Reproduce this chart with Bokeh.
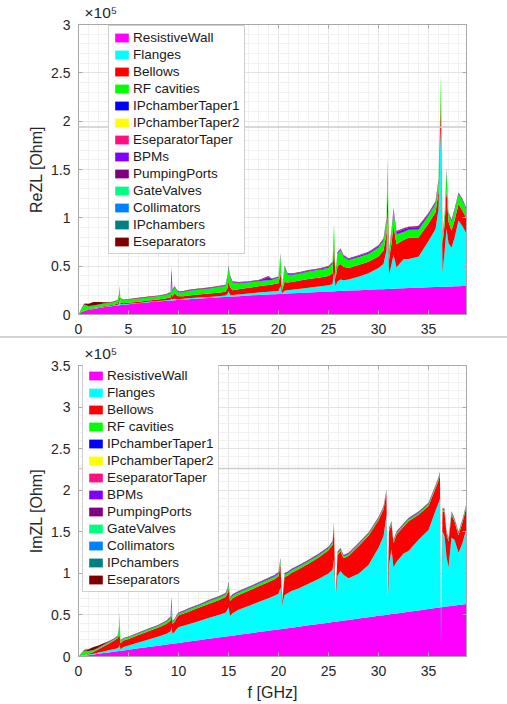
from bokeh.plotting import figure
from bokeh.models import (ColumnDataSource, Range1d, FixedTicker, LinearAxis, Legend,
                          LegendItem, Arrow, Div)
from bokeh.layouts import column
from bokeh.embed import file_html
from bokeh.resources import INLINE

# ---------------- data (impedance in kOhm, frequency in GHz) ----------------
freq = [
    0, 0.3, 0.6, 1.0, 1.5, 2.0, 2.5, 3.0, 3.5, 3.9,
    4.05, 4.1, 4.2, 4.5, 5, 6, 7, 8, 8.8, 9.2,
    9.3, 9.4, 9.6, 9.8, 10.0, 10.5, 11, 12, 13, 14,
    14.7, 14.9, 15.0, 15.15, 15.4, 16, 17, 18, 19, 19.3,
    19.6, 20.0, 20.2, 20.35, 20.6, 20.9, 21.3, 22, 23, 24,
    25, 25.4, 25.55, 25.7, 25.9, 26.2, 26.5, 27, 28, 29,
    30, 30.5, 30.8, 30.9, 31.05, 31.3, 31.5, 31.8, 32.5, 33,
    34, 35, 35.7, 36.0, 36.15, 36.25, 36.4, 36.6, 36.8, 37.0,
    37.3, 37.6, 38, 38.4, 38.8]

names = ["ResistiveWall", "Flanges", "Bellows", "RF cavities", "IPchamberTaper1",
         "IPchamberTaper2", "EseparatorTaper", "BPMs", "PumpingPorts", "GateValves",
         "Collimators", "IPchambers", "Eseparators"]
colors = ["#FF00FF", "#00FFFF", "#FF0000", "#00FF00", "#0000FF",
          "#FFFF00", "#FF0F80", "#8000FF", "#800080", "#00FF80",
          "#0080FF", "#008080", "#800000"]

# ---- real part ----
re_resistive_wall = [
    0, 2.6, 3.7, 4.8, 5.8, 6.7, 7.5, 8.2, 8.9, 9.4,
    9.6, 9.6, 9.7, 10.1, 10.6, 11.6, 12.6, 13.4, 14.1, 14.4,
    14.5, 14.6, 14.7, 14.9, 15.0, 15.4, 15.8, 16.5, 17.1, 17.8,
    18.2, 18.3, 18.4, 18.5, 18.6, 19.0, 19.6, 20.2, 20.7, 20.9,
    21.0, 21.2, 21.3, 21.4, 21.6, 21.7, 21.9, 22.3, 22.8, 23.3,
    23.8, 23.9, 24.0, 24.1, 24.2, 24.3, 24.5, 24.7, 25.1, 25.6,
    26.0, 26.2, 26.4, 26.4, 26.5, 26.6, 26.7, 26.8, 27.1, 27.3,
    27.7, 28.1, 28.4, 28.5, 28.6, 28.6, 28.7, 28.7, 28.8, 28.9,
    29.0, 29.1, 29.3, 29.4, 29.6]
re_flanges = [
    0, 0.1, 0.2, 0.2, 0.3, 0.3, 0.3, 0.3, 0.4, 0.5,
    2, 6, 1, 0.4, 0.4, 0.4, 0.5, 0.5, 0.6, 0.8,
    2, 1, 1.5, 1, 0.8, 0.8, 0.9, 1.0, 1.1, 1.2,
    1.4, 3, 6, 2, 1.5, 1.6, 2, 2.5, 2.8, 2.8,
    3, 3.2, 8, 0.5, 3, 3.5, 3.8, 4.2, 5, 5.7,
    6.4, 7.5, 20, 5, 10, 12, 11, 11.5, 14, 17,
    22, 26, 40, 80, 15, 25, 35, 22, 30, 30,
    32, 48, 60, 80, 140, 165, 15, 35, 60, 45,
    40, 50, 68, 62, 54]
re_bellows = [
    0, 0.2, 0.3, 0.4, 0.5, 0.6, 0.7, 0.8, 0.9, 1.2,
    3, 4, 1.5, 1.2, 1.2, 1.3, 1.5, 1.7, 2, 2.5,
    5, 3, 6, 4, 3, 2.8, 3, 3.2, 3.4, 3.6,
    4, 6, 10, 8, 5, 5.5, 6, 6.5, 7, 7,
    7.5, 8, 14, 3, 9, 8, 8, 8.5, 9, 9,
    9.5, 11, 30, 8, 16, 16, 14, 12, 12, 12,
    12, 14, 18, 30, 15, 22, 30, 24, 20, 22,
    20, 18, 17, 18, 20, 30, 30, 28, 40, 22,
    18, 18, 17, 16, 16]
re_rf_cavities = [
    0, 3, 6, 3, 2.5, 2.5, 2.5, 2.5, 2.5, 3,
    6, 10, 4, 3, 3, 3, 3, 3.2, 3.5, 4,
    12, 5, 6, 5, 4, 4, 4.5, 5, 5, 5.5,
    6, 12, 14, 10, 8, 6, 5.5, 5, 5, 5,
    5, 5.5, 18, 3, 15, 8, 7, 7, 7.5, 8,
    8.5, 10, 20, 6, 12, 14, 10, 8, 8, 8,
    9, 10, 12, 25, 8, 12, 15, 10, 8, 8,
    8, 8, 9, 10, 15, 25, 8, 10, 20, 8,
    9, 10, 10, 10, 8]
re_ipchamber_taper1 = [
    0, 0, 0, 0, 0, 0, 0, 0, 0, 0,
    0, 0.1, 0, 0, 0, 0, 0, 0, 0, 0.5,
    4, 0.5, 0.1, 0.1, 0.1, 0.1, 0.1, 0.1, 0.1, 0.1,
    0.1, 0.2, 0.3, 0.2, 0.1, 0.1, 0.1, 0.1, 0.3, 0.1,
    0.1, 0.1, 0.3, 0, 0.2, 0.1, 0.1, 0.1, 0.1, 0.1,
    0.2, 0.2, 0.3, 0.1, 0.2, 0.2, 0.2, 0.2, 0.2, 0.2,
    0.3, 0.3, 0.3, 0.3, 0.2, 0.3, 0.3, 0.3, 0.3, 0.3,
    0.3, 0.3, 0.3, 0.3, 0.3, 0.3, 0.2, 0.2, 0.3, 0.2,
    0.2, 0.2, 0.2, 0.2, 0.2]
re_ipchamber_taper2 = [0.0] * len(freq)
re_eseparator_taper = [0.0] * len(freq)
re_bpms = [
    0, 0.1, 0.1, 0.2, 0.2, 0.2, 0.2, 0.2, 0.2, 0.3,
    0.3, 0.5, 0.3, 0.3, 0.3, 0.3, 0.3, 0.3, 0.4, 0.5,
    10, 1, 0.6, 0.5, 0.5, 0.5, 0.5, 0.5, 0.5, 0.5,
    0.5, 0.8, 1, 0.8, 0.6, 0.6, 0.6, 0.7, 3, 0.8,
    0.7, 0.7, 1, 0.3, 0.8, 0.8, 0.8, 0.8, 0.8, 0.8,
    0.9, 1, 1, 0.5, 1, 1, 1, 1, 1.2, 1.3,
    1.3, 1.5, 1.5, 1.5, 1, 1.5, 2, 2, 2.5, 2,
    2.5, 1.5, 1.5, 1.5, 1.5, 1.5, 1, 1, 1.5, 1,
    1, 1, 1, 1, 1]
re_pumping_ports = [
    0, 0.1, 0.1, 0.1, 0.1, 0.1, 0.1, 0.1, 0.1, 0.1,
    0.2, 0.3, 0.2, 0.2, 0.2, 0.2, 0.2, 0.2, 0.2, 0.3,
    1, 0.3, 0.3, 0.3, 0.3, 0.3, 0.3, 0.3, 0.3, 0.3,
    0.3, 0.4, 0.5, 0.4, 0.3, 0.3, 0.3, 0.3, 0.5, 0.3,
    0.3, 0.3, 0.5, 0.2, 0.4, 0.4, 0.4, 0.4, 0.4, 0.4,
    0.4, 0.5, 0.5, 0.3, 0.5, 0.5, 0.5, 0.5, 0.5, 0.5,
    0.6, 0.6, 0.6, 0.6, 0.5, 0.6, 0.8, 0.8, 0.8, 0.8,
    0.8, 0.6, 0.6, 0.6, 0.6, 0.6, 0.5, 0.5, 0.6, 0.5,
    0.5, 0.5, 0.5, 0.5, 0.5]
re_gate_valves = [0.0] * len(freq)
re_collimators = [0.0] * len(freq)
re_ipchambers = [0.0] * len(freq)
re_eseparators = [
    0, 0.3, 1, 2.5, 3.5, 2.5, 1.5, 0.6, 0.4, 0.4,
    0.4, 0.4, 0.4, 0.4, 0.4, 0.4, 0.4, 0.4, 0.4, 0.4,
    0.5, 0.4, 0.4, 0.4, 0.4, 0.4, 0.4, 0.4, 0.4, 0.4,
    0.4, 0.4, 0.5, 0.4, 0.4, 0.4, 0.4, 0.4, 0.4, 0.4,
    0.4, 0.4, 0.5, 0.2, 0.4, 0.4, 0.4, 0.4, 0.4, 0.4,
    0.4, 0.4, 0.5, 0.2, 0.4, 0.4, 0.4, 0.4, 0.4, 0.4,
    0.4, 0.4, 0.4, 0.5, 0.4, 0.4, 0.4, 0.4, 0.4, 0.4,
    0.4, 0.4, 0.4, 0.4, 0.4, 0.5, 0.3, 0.3, 0.4, 0.3,
    0.3, 0.3, 0.3, 0.3, 0.3]

# ---- imaginary part ----
im_resistive_wall = [
    0, 0.5, 1.0, 1.6, 2.4, 3.3, 4.1, 4.9, 5.7, 6.3,
    6.6, 6.7, 6.8, 7.3, 8.1, 9.8, 11.4, 13.0, 14.3, 15.0,
    15.1, 15.3, 15.6, 15.9, 16.3, 17.1, 17.9, 19.5, 21.2, 22.8,
    24.0, 24.3, 24.5, 24.7, 25.1, 26.1, 27.7, 29.4, 31.0, 31.5,
    32.0, 32.6, 32.9, 33.2, 33.6, 34.1, 34.7, 35.9, 37.5, 39.1,
    40.7, 41.4, 41.6, 41.9, 42.2, 42.7, 43.2, 44.0, 45.6, 47.2,
    48.9, 49.7, 50.2, 50.3, 50.6, 51.0, 51.3, 51.8, 53.0, 53.8,
    55.4, 57.0, 58.2, 58.7, 58.9, 59.1, 59.3, 59.7, 60.0, 60.3,
    60.8, 61.3, 61.9, 62.6, 63.2]
im_flanges = [
    0, 0.3, 0.5, 0.8, 1.0, 1.5, 2, 2.5, 3, 3.5,
    5, 8, 2, 4, 5, 7, 9, 11, 13, 15,
    20, 12, 14, 17, 19, 20, 21, 23, 25, 27,
    28.5, 32, 35, 24, 27, 30, 33, 36, 39, 40,
    41, 43, 50, 28, 40, 42, 44, 46, 50, 54,
    59, 63, 75, 27, 55, 60, 55, 50, 54, 63,
    82, 95, 120, 3, 60, 78, 56, 62, 71, 73,
    85, 95, 117, 126, 131, -50, 91, 85, 60, 47,
    82, 79, 63, 74, 91]
im_bellows = [
    0, 0.2, 0.3, 0.8, 2, 4, 6, 8, 10, 12,
    14, 12, 7, 8, 8, 9, 10, 11, 12, 13,
    15, 12, 12, 13, 14, 14.5, 15, 16, 17, 18,
    19, 20, 22, 18, 18, 18, 18.5, 19, 19.5, 20,
    20, 21, 28, 2, 22, 21, 22, 23, 24, 26,
    28, 30, 40, 1, 25, 24, 20, 27, 33, 35,
    33, 32, 26, 5, 40, 30, 29, 33, 32, 36,
    30, 29, 27, 27, 28, 8, 24, 29, 28, 31,
    28, 22, 21, 25, 26]
im_rf_cavities = [
    0, 3, 5, 3, 2, 1.5, 1.5, 1.5, 1.5, 2,
    8, 25, 3, 2, 2, 2, 2, 2, 2.5, 3,
    10, 2, 2, 2, 2, 2, 2.5, 2.5, 3, 3,
    3, 4, 6, 3, 3, 3, 3, 3, 3, 3,
    3, 3, 5, 1, 3, 3, 3, 3, 3, 2.5,
    2.5, 2.5, 3, 1, 2, 2, 2, 2, 2, 2,
    2, 2, 2, 0.5, 2, 2, 2, 2, 2, 2,
    2, 2, 2, 2, 2, 1, 2, 2, 2, 2,
    2, 2, 2, 2, 2]
im_ipchamber_taper1 = [
    0, 0, 0, 0, 0, 0, 0, 0, 0, 0,
    0, 0.2, 0, 0, 0, 0, 0, 0, 0, 0.3,
    3, 0.3, 0.1, 0.1, 0.1, 0.1, 0.1, 0.1, 0.1, 0.1,
    0.1, 0.2, 0.3, 0.1, 0.1, 0.1, 0.1, 0.1, 0.1, 0.1,
    0.1, 0.1, 0.3, 0, 0.1, 0.1, 0.1, 0.1, 0.1, 0.1,
    0.1, 0.1, 0.3, 0, 0.1, 0.1, 0.1, 0.1, 0.1, 0.1,
    0.1, 0.1, 0.3, 0, 0.1, 0.1, 0.1, 0.1, 0.1, 0.1,
    0.1, 0.1, 0.1, 0.1, 0.2, 0, 0.1, 0.1, 0.1, 0.1,
    0.1, 0.1, 0.1, 0.1, 0.1]
im_ipchamber_taper2 = [0.0] * len(freq)
im_eseparator_taper = [0.0] * len(freq)
im_bpms = [
    0, 0.1, 0.2, 0.3, 0.3, 0.3, 0.4, 0.4, 0.4, 0.5,
    0.5, 1, 0.5, 0.5, 0.5, 0.5, 0.6, 0.6, 0.7, 1,
    8, 0.8, 0.8, 0.8, 0.8, 0.8, 0.8, 0.8, 0.9, 0.9,
    1, 1.2, 1.5, 1, 1, 1, 1, 1, 1.2, 1.2,
    1.2, 1.2, 1.5, 0.5, 1, 1, 1, 1, 1, 1,
    1, 1, 1.5, 0.3, 1, 1, 1, 1, 1, 1,
    1, 1, 1.5, 0.3, 1, 1, 1, 1, 1, 1,
    1, 1, 1, 1, 1, 0.5, 1, 1, 1, 1,
    1, 1, 1, 1, 1]
im_pumping_ports = [
    0, 0.1, 0.1, 0.2, 0.2, 0.2, 0.3, 0.3, 0.3, 0.3,
    0.3, 0.5, 0.3, 0.3, 0.3, 0.3, 0.4, 0.4, 0.4, 0.4,
    1, 0.4, 0.4, 0.4, 0.4, 0.4, 0.4, 0.4, 0.4, 0.4,
    0.4, 0.5, 0.6, 0.4, 0.4, 0.4, 0.4, 0.4, 0.5, 0.5,
    0.5, 0.5, 0.6, 0.2, 0.5, 0.5, 0.5, 0.5, 0.5, 0.5,
    0.5, 0.5, 0.6, 0.2, 0.5, 0.5, 0.5, 0.5, 0.5, 0.5,
    0.5, 0.5, 0.6, 0.2, 0.5, 0.5, 0.5, 0.5, 0.5, 0.5,
    0.5, 0.5, 0.5, 0.5, 0.5, 0.2, 0.5, 0.5, 0.5, 0.5,
    0.5, 0.5, 0.5, 0.5, 0.5]
im_gate_valves = [0.0] * len(freq)
im_collimators = [0.0] * len(freq)
im_ipchambers = [0.0] * len(freq)
im_eseparators = [
    0, 0.3, 1, 2, 3.5, 2.5, 1.5, 0.6, 0.4, 0.3,
    0.3, 0.3, 0.3, 0.3, 0.3, 0.3, 0.3, 0.3, 0.3, 0.3,
    0.4, 0.3, 0.3, 0.3, 0.3, 0.3, 0.3, 0.3, 0.3, 0.3,
    0.3, 0.3, 0.4, 0.3, 0.3, 0.3, 0.3, 0.3, 0.3, 0.3,
    0.3, 0.3, 0.4, 0.1, 0.3, 0.3, 0.3, 0.3, 0.3, 0.3,
    0.3, 0.3, 0.4, 0.1, 0.3, 0.3, 0.3, 0.3, 0.3, 0.3,
    0.3, 0.3, 0.4, 0.1, 0.3, 0.3, 0.3, 0.3, 0.3, 0.3,
    0.3, 0.3, 0.3, 0.3, 0.3, 0.1, 0.3, 0.3, 0.3, 0.3,
    0.3, 0.3, 0.3, 0.3, 0.3]

re_series = [re_resistive_wall, re_flanges, re_bellows, re_rf_cavities, re_ipchamber_taper1,
             re_ipchamber_taper2, re_eseparator_taper, re_bpms, re_pumping_ports,
             re_gate_valves, re_collimators, re_ipchambers, re_eseparators]
im_series = [im_resistive_wall, im_flanges, im_bellows, im_rf_cavities, im_ipchamber_taper1,
             im_ipchamber_taper2, im_eseparator_taper, im_bpms, im_pumping_ports,
             im_gate_valves, im_collimators, im_ipchambers, im_eseparators]

x_ticks = [0, 5, 10, 15, 20, 25, 30, 35]
re_ticks = [0, 50, 100, 150, 200, 250, 300]
re_tick_labels = ["0", "0.5", "1", "1.5", "2", "2.5", "3"]
im_ticks = [0, 50, 100, 150, 200, 250, 300, 350]
im_tick_labels = ["0", "0.5", "1", "1.5", "2", "2.5", "3", "3.5"]
exponent_text = "\u00d710\u2075"

# ---------------- styling ----------------
FONT = "Liberation Sans"
TXT = "#262626"
AX = "#a8a8a8"


def style_axis(ax, show_labels=True):
    ax.axis_line_color = AX
    ax.major_tick_line_color = AX
    ax.major_tick_in = 4
    ax.major_tick_out = 0
    ax.minor_tick_line_color = None
    ax.major_label_text_font = FONT
    ax.major_label_text_font_size = "14px" if show_labels else "1px"
    ax.major_label_text_color = TXT if show_labels else None
    ax.axis_label_text_font = FONT
    ax.axis_label_text_font_size = "16px"
    ax.axis_label_text_font_style = "normal"
    ax.axis_label_text_color = TXT


def make_panel(height, top_b, bot_b, ymax, yticks, ylabels, ylabel, xlabel, series,
               legend_xy, artifact_y):
    p = figure(width=507, height=height, output_backend="svg", toolbar_location=None,
               x_range=Range1d(0, 38.8), y_range=Range1d(0, ymax),
               min_border_left=78, min_border_right=41,
               min_border_top=top_b, min_border_bottom=bot_b)
    p.outline_line_color = AX
    p.background_fill_color = "white"
    p.border_fill_color = "white"

    # exponent marker (x10^5) shown above the y axis
    p.title.text = exponent_text
    p.title.align = "left"
    p.title.offset = 6
    p.title.standoff = 0
    p.title.text_font = FONT
    p.title.text_font_size = "15.5px"
    p.title.text_font_style = "normal"
    p.title.text_color = TXT

    data = {"f": freq}
    for n, vals in zip(names, series):
        data[n] = vals
    src = ColumnDataSource(data)
    rends = p.varea_stack(stackers=names, x="f", color=colors, source=src)

    xt = FixedTicker(ticks=x_ticks, minor_ticks=list(range(0, 39)))
    yt = FixedTicker(ticks=yticks, minor_ticks=list(range(0, ymax + 1, 10)))
    p.xaxis.ticker = xt
    p.yaxis.ticker = yt
    p.xgrid.ticker = xt
    p.ygrid.ticker = yt
    p.yaxis.major_label_overrides = {t: s for t, s in zip(yticks, ylabels)}
    for ax in p.xaxis + p.yaxis:
        style_axis(ax)
    p.xaxis.major_label_standoff = 5
    p.yaxis.major_label_standoff = 4
    p.yaxis.axis_label = ylabel
    p.yaxis.axis_label_standoff = 3
    if xlabel:
        p.xaxis.axis_label = xlabel
        p.xaxis.axis_label_standoff = 5

    ra = LinearAxis(ticker=yt)
    style_axis(ra, show_labels=False)
    ra.major_label_standoff = 0
    p.add_layout(ra, "right")
    ta = LinearAxis(ticker=xt)
    style_axis(ta, show_labels=False)
    ta.major_label_standoff = 0
    p.add_layout(ta, "above")

    for g in (p.xgrid, p.ygrid):
        g.grid_line_color = "#e4e4e4"
        g.minor_grid_line_color = "#f1f1f1"

    items = [LegendItem(label=n, renderers=[r]) for n, r in zip(names, rends)]
    leg = Legend(items=items, location=legend_xy)
    leg.label_text_font = FONT
    leg.label_text_font_size = "13.5px"
    leg.label_text_color = "#1a1a1a"
    leg.glyph_width = 17
    leg.glyph_height = 11
    leg.label_height = 13
    leg.label_standoff = 3
    leg.spacing = 2
    leg.padding = 4
    leg.margin = 0
    leg.border_line_color = "#a0a0a0"
    leg.border_line_width = 1
    leg.background_fill_alpha = 1
    p.add_layout(leg)

    p.add_layout(Arrow(start=None, end=None, x_start=-6.5, y_start=artifact_y,
                       x_end=43.0, y_end=artifact_y, line_color="#cdcdcd",
                       line_width=1.5))
    return p


p1 = make_panel(336, 24, 21, 300, re_ticks, re_tick_labels, "ReZL [Ohm]", None,
                re_series, (30, 60), 194.0)
sep = Div(width=507, height=2, margin=(0, 0, 0, 0),
          styles={"background-color": "#d2d2d2"})
p2 = make_panel(366, 27, 48, 350, im_ticks, im_tick_labels, "ImZL [Ohm]", "f [GHz]",
                im_series, (4, 64), 226.0)

layout = column(p1, sep, p2, spacing=0)
open("out.html", "w").write(file_html(layout, INLINE))
